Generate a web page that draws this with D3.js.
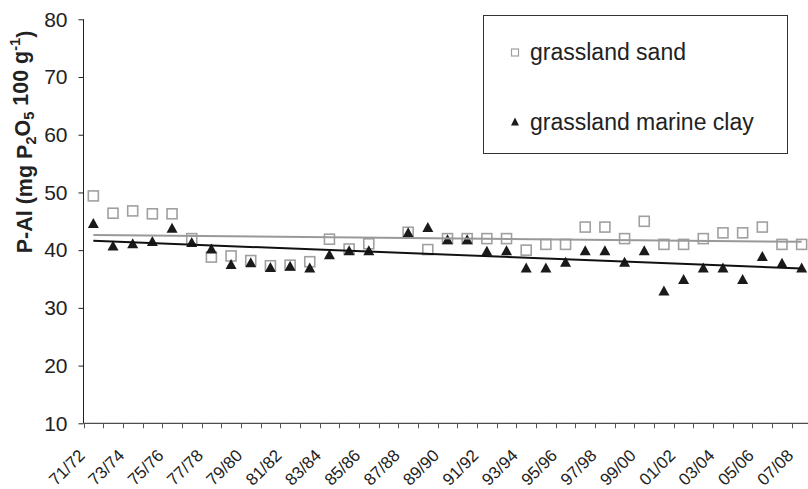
<!DOCTYPE html>
<html>
<head>
<meta charset="utf-8">
<script src="https://cdn.jsdelivr.net/npm/d3@7"></script>
<style>
  html, body { margin: 0; padding: 0; background: #fff; }
  svg { display: block; }
  text { font-family: "Liberation Sans", Arial, sans-serif; fill: #222; }
</style>
</head>
<body>
<svg id="chart" width="808" height="489"></svg>
<script>
// ---- data ----
const categories = [
  "71/72","72/73","73/74","74/75","75/76","76/77","77/78","78/79","79/80","80/81",
  "81/82","82/83","83/84","84/85","85/86","86/87","87/88","88/89","89/90","90/91",
  "91/92","92/93","93/94","94/95","95/96","96/97","97/98","98/99","99/00","00/01",
  "01/02","02/03","03/04","04/05","05/06","06/07","07/08"
];
const grasslandSand = [
  49.4, 46.4, 46.8, 46.3, 46.3, 42.0, 38.8, 39.0, 38.2, 37.3,
  37.4, 38.0, 41.9, 40.2, 41.1, null, 43.1, 40.1, 42.0, 42.0,
  42.0, 42.0, 40.0, 41.0, 41.0, 44.0, 44.0, 42.0, 45.0, 41.0,
  41.0, 42.0, 43.0, 43.0, 44.0, 41.0, 41.0
];
const grasslandMarineClay = [
  44.7, 40.8, 41.2, 41.6, 43.9, 41.4, 40.3, 37.6, 37.9, 37.1,
  37.3, 37.0, 39.3, 40.0, 40.0, null, 43.1, 44.0, 41.9, 41.9,
  39.9, 40.0, 37.0, 37.0, 38.0, 40.0, 40.0, 38.0, 40.0, 33.0,
  35.0, 37.0, 37.0, 35.0, 39.0, 37.8, 37.0
];
const yTicks = [10, 20, 30, 40, 50, 60, 70, 80];
const seriesNames = ["grassland sand", "grassland marine clay"];

// ---- layout ----
const svg = d3.select("#chart");
const x = d3.scaleBand().domain(categories).range([83.5, 811.5]).padding(0);
const y = d3.scaleLinear().domain([10, 80]).range([423.3, 19.3]);
const cx = d => x(d) + x.bandwidth() / 2;

// ---- axes ----
const yAxis = svg.append("g").attr("transform", "translate(83.5,0)")
  .call(d3.axisLeft(y).tickValues(yTicks).tickSize(5).tickPadding(11).tickFormat(d3.format("d")));
yAxis.select(".domain").attr("stroke", "#222").attr("d", `M0,${y(80)}V${y(10)}`);
yAxis.selectAll(".tick line").attr("stroke", "#222");
yAxis.selectAll(".tick text").style("font-size", "21px").attr("fill", "#222");

// x axis line and ticks at band boundaries
const xg = svg.append("g");
xg.append("line").attr("x1", 83.5).attr("x2", 811.5)
  .attr("y1", y(10)).attr("y2", y(10)).attr("stroke", "#222");
const boundaries = categories.map(c => x(c)).concat([x(categories[categories.length-1]) + x.bandwidth()]);
xg.selectAll("line.tk").data(boundaries).enter().append("line")
  .attr("class", "tk")
  .attr("x1", d => Math.round(d) + 0.5).attr("x2", d => Math.round(d) + 0.5)
  .attr("y1", y(10)).attr("y2", y(10) + 5).attr("stroke", "#555");
xg.selectAll("text.xl").data(categories.filter((c, i) => i % 2 === 0)).enter().append("text")
  .attr("class", "xl")
  .attr("transform", d => `translate(${cx(d) - 11.5},${y(10) + 29}) rotate(-45)`)
  .attr("text-anchor", "end")
  .attr("dy", "0.35em")
  .style("font-size", "17px")
  .text(d => d);

// y axis title
const title = svg.append("text")
  .attr("transform", `translate(32,142) rotate(-90)`)
  .attr("text-anchor", "middle")
  .style("font-size", "21.5px").style("font-weight", "bold");
title.append("tspan").text("P-Al (mg P");
title.append("tspan").attr("dy", "0.3em").style("font-size", "14.5px").text("2");
title.append("tspan").attr("dy", "-0.3em").text("O");
title.append("tspan").attr("dy", "0.3em").style("font-size", "14.5px").text("5");
title.append("tspan").attr("dy", "-0.3em").text(" 100 g");
title.append("tspan").attr("dy", "-0.55em").style("font-size", "14.5px").text("-1");
title.append("tspan").attr("dy", "0.55em").text(")");

// ---- markers ----
const tri = (w, h) => `M0,${-h/2}L${w/2},${h/2}L${-w/2},${h/2}Z`;
const sandPts = categories.map((c, i) => ({c, v: grasslandSand[i], i})).filter(d => d.v != null);
const clayPts = categories.map((c, i) => ({c, v: grasslandMarineClay[i], i})).filter(d => d.v != null);

svg.append("g").selectAll("rect").data(sandPts).enter().append("rect")
  .attr("x", d => cx(d.c) - 5).attr("y", d => y(d.v) - 5)
  .attr("width", 10).attr("height", 10)
  .attr("fill", "#fff").attr("stroke", "#a0a0a0").attr("stroke-width", 1.6);

svg.append("g").selectAll("path").data(clayPts).enter().append("path")
  .attr("transform", d => `translate(${cx(d.c)},${y(d.v)})`)
  .attr("d", tri(11, 10)).attr("fill", "#1a1a1a");

// ---- linear trend lines (least squares) ----
function trend(pts) {
  const mx = d3.mean(pts, d => d.i), my = d3.mean(pts, d => d.v);
  const sxy = d3.sum(pts, d => (d.i - mx) * (d.v - my));
  const sxx = d3.sum(pts, d => (d.i - mx) * (d.i - mx));
  const b = sxy / sxx, a = my - b * mx;
  const i0 = 0, i1 = categories.length - 1;
  return [[cx(categories[i0]), y(a + b * i0)], [cx(categories[i1]), y(a + b * i1)]];
}
const line = d3.line();
svg.append("path").attr("d", line(trend(sandPts)))
  .attr("stroke", "#999").attr("stroke-width", 2).attr("fill", "none");
svg.append("path").attr("d", line(trend(clayPts)))
  .attr("stroke", "#111").attr("stroke-width", 2).attr("fill", "none");

// ---- legend ----
const lg = svg.append("g");
lg.append("rect").attr("x", 483.5).attr("y", 15.5).attr("width", 304).attr("height", 138)
  .attr("fill", "#fff").attr("stroke", "#333").attr("stroke-width", 1);
lg.append("rect").attr("x", 511.5).attr("y", 49).attr("width", 7).attr("height", 7)
  .attr("fill", "#fff").attr("stroke", "#a0a0a0").attr("stroke-width", 1.2);
lg.append("path").attr("transform", "translate(515,121.5)").attr("d", tri(8, 8)).attr("fill", "#1a1a1a");
lg.append("text").attr("x", 530).attr("y", 60).style("font-size", "23px").text(seriesNames[0]);
lg.append("text").attr("x", 530).attr("y", 129.5).style("font-size", "23px").text(seriesNames[1]);
</script>
</body>
</html>
